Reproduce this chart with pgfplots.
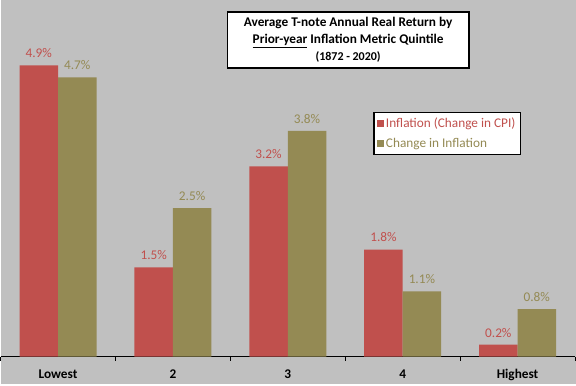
\documentclass[border=0pt]{standalone}
\usepackage{fontspec}
\setmainfont{Carlito}
\usepackage{pgfplots}
\pgfplotsset{compat=1.18}
\definecolor{cred}{HTML}{C0504D}
\definecolor{colive}{HTML}{948A54}
\definecolor{bg}{HTML}{C0C0C0}
\begin{document}
\fontsize{13.3bp}{16bp}\selectfont
\begin{tikzpicture}
\fill[bg] (0,0) rectangle (576bp,384bp);
\begin{axis}[at={(0bp,27bp)}, anchor=south west, scale only axis,
  width=575bp, height=357bp,
  ymin=0, ymax=6, xmin=-0.5, xmax=4.5,
  axis x line*=bottom, axis y line=none,
  x axis line style={black, line width=1.2bp},
  ybar=0pt, bar width=38.5bp,
  xtick={0,...,4}, xticklabels={Lowest,2,3,4,Highest},
  major tick length=0pt,
  minor xtick={-0.5,0.5,...,4.5}, minor tick length=4bp, tick align=outside,
  minor tick style={black, line width=1bp},
  x tick label style={font=\fontsize{13.3bp}{16bp}\selectfont\bfseries, anchor=base, yshift=-22bp},
  clip=false,
  /pgf/number format/assume math mode=true,
  nodes near coords={\pgfmathprintnumber[fixed,precision=1,fixed zerofill]{\pgfplotspointmeta}\%},
  every node near coord/.append style={font=\fontsize{13.3bp}{16bp}\selectfont, yshift=3bp},
  legend style={at={(0.649,0.686)}, anchor=north west, draw=black, line width=1.2bp,
    fill=white, font=\fontsize{13.3bp}{16bp}\selectfont, row sep=5bp,
    inner xsep=3bp, inner ysep=3bp, /tikz/every even column/.append style={column sep=2bp}},
  legend cell align=left,
]
\addplot[fill=cred, draw=none, every node near coord/.append style={text=cred},
  legend image code/.code={\fill[cred] (0bp,-3.5bp) rectangle (7bp,3.5bp);}]
  coordinates {(0,4.9) (1,1.5) (2,3.2) (3,1.8) (4,0.2)};
\addplot[fill=colive, draw=none, every node near coord/.append style={text=colive},
  legend image code/.code={\fill[colive] (0bp,-3.5bp) rectangle (7bp,3.5bp);}]
  coordinates {(0,4.7) (1,2.5) (2,3.8) (3,1.1) (4,0.8)};
\legend{\textcolor{cred}{Inflation (Change in CPI)},\textcolor{colive}{Change in Inflation}}
\node[draw=black, line width=1.2bp, fill=white, minimum width=242bp, minimum height=56bp,
  align=center, inner sep=2bp, font=\bfseries\fontsize{13.3bp}{17bp}\selectfont]
  at (rel axis cs:0.605,0.888)
  {Average T-note Annual Real Return by\\ \underline{Prior-year} Inflation Metric Quintile\\
   {\fontsize{12bp}{13bp}\selectfont (1872 - 2020)}};
\end{axis}
\end{tikzpicture}
\end{document}
